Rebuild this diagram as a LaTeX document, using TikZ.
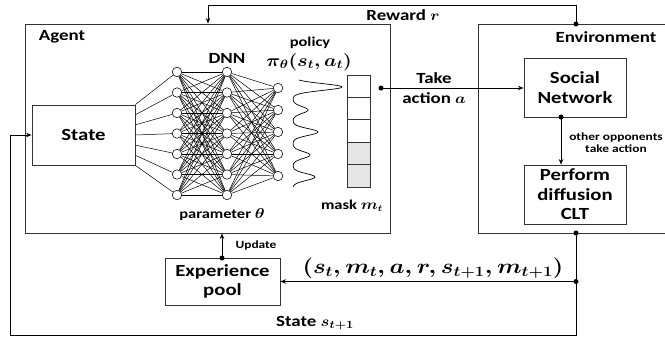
\documentclass[tikz,border=0pt]{standalone}
\usepackage{fontspec}
\setmainfont{Carlito}[FakeStretch=1.22]
\usepackage{graphicx}
\usetikzlibrary{arrows.meta,calc}
\newcommand\mth[1]{\scalebox{1.15}[1]{\boldmath$#1$}}
\begin{document}
\begin{tikzpicture}[x=1pt,y=-1pt,
  declare function={pk(\y,\c,\h)=\h*exp(-min(((\y-\c)/4.8)^2,30));},
  box/.style={draw=black!80, line width=0.9pt, inner sep=0pt},
  conn/.style={line width=0.9pt, -{Stealth[length=5.5pt,width=4.5pt]}},
  wire/.style={line width=0.9pt},
  dot/.style={circle, fill=black, inner sep=0pt, minimum size=5pt},
  neur/.style={circle, draw=black, fill=white, line width=0.55pt, inner sep=0pt, minimum size=9.5pt},
  syn/.style={line width=0.5pt},
  big/.style={font=\fontsize{17}{19.5}\selectfont\bfseries, align=center},
  mid/.style={font=\fontsize{15.5}{20}\selectfont\bfseries, align=center, inner sep=0pt},
  sml/.style={font=\fontsize{13.5}{15}\selectfont\bfseries, inner sep=0pt},
  tiny/.style={font=\fontsize{11}{12}\selectfont\bfseries, align=center, inner sep=0pt},
]
\useasboundingbox (0,0) rectangle (665,341);
% main boxes
\node[box, minimum width=365pt, minimum height=209pt] (agent) at (207.5,128.5) {};
\node[box, minimum width=200pt, minimum height=209pt] (env) at (578,128.5) {};
\node[box, big, minimum width=103pt, minimum height=60pt] (state) at (83.5,135) {State};
\node[box, big, minimum width=102pt, minimum height=59pt] (social) at (575,87.5) {Social\\Network};
\node[box, big, minimum width=102pt, minimum height=59pt] (perform) at (575,194.5) {Perform\\diffusion\\CLT};
\node[box, big, minimum width=115pt, minimum height=47pt] (pool) at (222.5,281.5) {Experience\\pool};
% neural network
\foreach \i in {0,...,6} \node[neur] (a\i) at (177,{72+20.5*\i}) {};
\foreach \i in {0,...,6} \node[neur] (b\i) at (227,{72+20.5*\i}) {};
\foreach \i in {0,...,4} \node[neur] (c\i) at (278,{88+22*\i}) {};
\foreach \i in {0,...,6} \draw[syn] ($(state.north east)!{\i/6}!(state.south east)$) -- (a\i);
\foreach \i in {0,...,6} \foreach \j in {0,...,6} \draw[syn] (a\i) -- (b\j);
\foreach \i in {0,...,6} \foreach \j in {0,...,4} \draw[syn] (b\i) -- (c\j);
% policy curve
\draw[line width=0.7pt] plot[smooth, samples=160, domain=80:187, variable=\t]
  ({293+pk(\t,87,49)+pk(\t,110,15)+pk(\t,132,25)+pk(\t,155,17)+pk(\t,177,22)}, {\t});
% mask
\foreach \i/\f in {0/white,1/white,2/white,3/black!10,4/black!10}
  \node[draw=black!80, fill=\f, line width=0.7pt, minimum width=23pt, minimum height=22.4pt, inner sep=0pt] (m\i) at (358.5,{86.2+22.4*\i}) {};
% labels
\node[mid] (lagent) at (62,37) {Agent};
\node[mid] (lenv) at (606,37) {Environment};
\node[mid] (ldnn) at (227,58) {DNN};
\node[sml] (lpol) at (310,43) {policy};
\node[inner sep=0pt, font=\fontsize{17}{18}\selectfont] (lpi) at (309,62) {\mth{\pi_\theta(s_t,a_t)}};
\node[sml] (lpar) at (222,215) {parameter \mth{\theta}};
\node[sml] (lmask) at (352,206) {mask \mth{m_t}};
\node[mid] (lrew) at (403,15) {Reward \mth{r}};
\node[mid] (ltake) at (434,88) {Take\\action \mth{a}};
\node[tiny] (lupd) at (256,246) {Update};
\node[tiny] (lopp) at (616,142.5) {other opponents\\take action};
\node[inner sep=0pt, font=\fontsize{19.5}{21}\selectfont] (ltup) at (433,268) {\mth{(s_t,m_t,a,r,s_{t+1},m_{t+1})}};
\node[mid] (lst) at (315,323) {State \mth{s_{t+1}}};
% dots
\node[dot] (dR) at (576,24) {};
\node[dot] (dA) at (381,88) {};
\node[dot] (dS) at (561,117) {};
\node[dot] (dE) at (576,233) {};
\node[dot] (dT) at (576,281.5) {};
\node[dot] (dU) at (222,258) {};
\coordinate (rTop) at (208,5);
\coordinate (cBR) at (576,335);
\coordinate (cBL) at (10,335);
% connectors
\draw[conn] (dR.center) |- (rTop) -- (rTop |- agent.north);
\draw[conn] (dA.center) -- (dA.center -| social.west);
\draw[conn] (dS.center) -- (dS.center |- perform.north);
\draw[wire] (dE.center) -- (dT.center);
\draw[conn] (dT.center) -- (pool.east);
\draw[conn] (dT.center) -- (cBR) -- (cBL) |- (state.west);
\draw[conn] (dU.center) -- (dU.center |- agent.south);
\end{tikzpicture}
\end{document}
